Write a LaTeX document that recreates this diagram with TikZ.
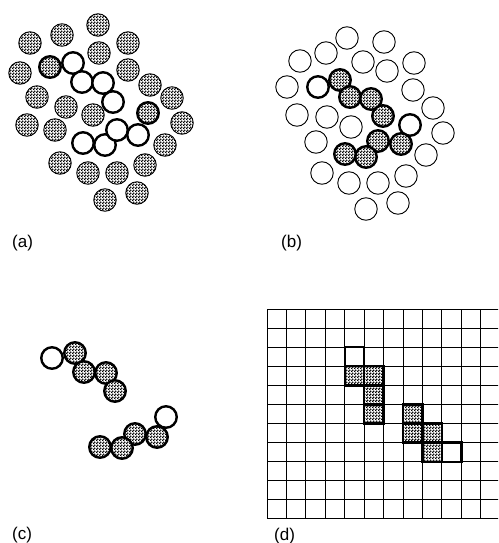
\documentclass[tikz,border=0pt]{standalone}
\usepackage{fontspec}
\setmainfont{Liberation Sans}
\usetikzlibrary{patterns}
\pgfdeclarepatternformonly{stip}{\pgfpointorigin}{\pgfqpoint{3pt}{3pt}}{\pgfqpoint{3pt}{3pt}}{%
  \pgfpathcircle{\pgfqpoint{0.75pt}{0.75pt}}{1.05pt}%
  \pgfpathcircle{\pgfqpoint{2.25pt}{2.25pt}}{1.05pt}%
  \pgfusepath{fill}}
\tikzset{
  ball/.style={circle, draw=black, minimum size=22.5pt, inner sep=0pt},
  wc/.style={ball, fill=white, line width=0.9pt},
  gc/.style={ball, line width=0.9pt, preaction={fill=white}, pattern=stip},
  wcb/.style={ball, fill=white, line width=2.4pt, minimum size=21.5pt},
  gcb/.style={ball, line width=2.4pt, minimum size=21.5pt, preaction={fill=white}, pattern=stip},
  lab/.style={anchor=west, inner sep=0pt, font=\fontsize{17}{19}\selectfont},
  gridline/.style={line width=1pt},
  cellw/.style={draw=black, line width=2.4pt, fill=white},
  cellg/.style={draw=black, line width=2.4pt, preaction={fill=white}, pattern=stip},
}
\begin{document}
\begin{tikzpicture}[x=1pt,y=-1pt]
\useasboundingbox (0,0) rectangle (498,543);
% ---------- (a)
\foreach \x/\y [count=\i] in {98/25,62/35,30/43,128/43,99/53,20/73,128/70,150/85,37/97,172/98,66/107,93/115,27/125,182/123,55/130,165/145,60/163,88/173,117/173,145/165,105/200,137/193}
  \node[gc] (ag\i) at (\x,\y) {};
\node[gcb] (a1) at (50,67) {};
\node[wcb] (a2) at (73,63) {};
\node[wcb] (a3) at (82,82) {};
\node[wcb] (a4) at (103,83) {};
\node[wcb] (a5) at (113,102) {};
\node[wcb] (a10) at (83,143) {};
\node[wcb] (a9) at (105,145) {};
\node[wcb] (a8) at (117,130) {};
\node[wcb] (a7) at (138,135) {};
\node[gcb] (a6) at (148,113) {};
% ---------- (b)
\foreach \x/\y [count=\i] in {347/38,384/42,326/53,300/61,363/62,387/71,414/63,287/87,413/90,433/108,297/115,327/117,351/127,443/133,316/142,426/155,322/173,349/183,378/183,406/176,366/209,398/203}
  \node[wc] (bw\i) at (\x,\y) {};
\node[wcb] (b1) at (318,87) {};
\node[gcb] (b2) at (340,80) {};
\node[gcb] (b3) at (350,97) {};
\node[gcb] (b4) at (371,99) {};
\node[gcb] (b5) at (383,116) {};
\node[wcb] (b6) at (410,125) {};
\node[gcb] (b7) at (401,144) {};
\node[gcb] (b8) at (378,141) {};
\node[gcb] (b9) at (366,157) {};
\node[gcb] (b10) at (345,154) {};
% ---------- (c)
\node[wcb] (c1) at (52,358) {};
\node[gcb] (c2) at (75,353) {};
\node[gcb] (c3) at (84,372) {};
\node[gcb] (c4) at (106,373) {};
\node[gcb] (c5) at (115,391) {};
\node[wcb] (c6) at (166,417) {};
\node[gcb] (c7) at (157,437) {};
\node[gcb] (c8) at (135,434) {};
\node[gcb] (c9) at (122,448) {};
\node[gcb] (c10) at (100,447) {};
% ---------- (d)
\begin{scope}
\clip (260,300) rectangle (498,530);
\foreach \k in {0,...,11}
  \draw[gridline] (267+19.43*\k,309) -- (267+19.43*\k,519);
\foreach \k in {0,...,11}
  \draw[gridline] (267,309+19.09*\k) -- (500,309+19.09*\k);
\end{scope}
\foreach \c/\r/\s [count=\i] in {4/2/cellw,4/3/cellg,5/3/cellg,5/4/cellg,5/5/cellg,7/5/cellg,7/6/cellg,8/6/cellg,8/7/cellg,9/7/cellw}
  \draw[\s] (267+19.43*\c,309+19.09*\r) rectangle (267+19.43*\c+19.43,309+19.09*\r+19.09);
% ---------- labels
\node[lab] (la) at (12,243) {(a)};
\node[lab] (lb) at (281,243) {(b)};
\node[lab] (lc) at (12,535) {(c)};
\node[lab] (ld) at (274,536) {(d)};
\end{tikzpicture}
\end{document}
